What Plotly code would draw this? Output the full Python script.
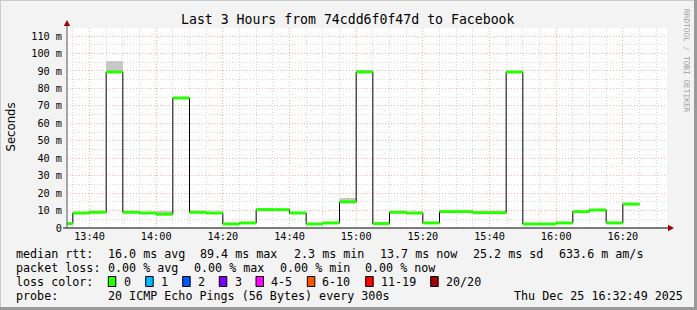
import plotly.graph_objects as go
import pandas as pd

# ---------------- data ----------------
seg_start = pd.date_range("2025-12-25 13:30", periods=35, freq="5min")
median_ms = [2.5, 8.6, 9.0, 89.4, 9.0, 8.6, 7.9, 74.5, 9.0, 8.6,
             2.3, 2.9, 10.5, 10.5, 8.6, 2.3, 2.9, 15.0, 89.4, 2.5,
             9.0, 8.6, 2.9, 9.4, 9.4, 8.8, 8.8, 89.4, 2.3, 2.3,
             2.9, 9.4, 10.3, 2.9, 13.7]
smoke_hi_ms = [2.5, 8.6, 9.0, 95.5, 9.0, 8.6, 10.0, 74.5, 9.0, 8.6,
               2.3, 2.9, 11.2, 10.5, 8.6, 2.3, 2.9, 17.2, 90.6, 2.5,
               9.0, 8.6, 2.9, 9.4, 9.4, 8.8, 8.8, 89.4, 2.3, 2.3,
               2.9, 9.4, 10.3, 2.9, 13.7]
y_tick_vals = [0, 10, 20, 30, 40, 50, 60, 70, 80, 90, 100, 110]
y_tick_text = ["0", "10 m", "20 m", "30 m", "40 m", "50 m", "60 m", "70 m",
               "80 m", "90 m", "100 m", "110 m"]
title_text = "Last 3 Hours from 74cdd6f0f47d to Facebook"
stats_row1 = ["median rtt:", "16.0 ms avg", "89.4 ms max", "2.3 ms min",
              "13.7 ms now", "25.2 ms sd", "633.6 m am/s"]
stats_row2 = ["packet loss:", "0.00 % avg", "0.00 % max", "0.00 % min", "0.00 % now"]
loss_title = "loss color:"
loss_labels = ["0", "1", "2", "3", "4-5", "6-10", "11-19", "20/20"]
loss_colors = ["#26ff00", "#00b8ff", "#0059ff", "#7e00ff", "#ff00ff",
               "#ff5500", "#ff0000", "#a10000"]
probe_row = ["probe:", "20 ICMP Echo Pings (56 Bytes) every 300s"]
stamp_text = "Thu Dec 25 16:32:49 2025"
watermark = "RRDTOOL / TOBI OETIKER"

# ---------------- geometry helpers ----------------
W, H = 697, 310
L, R, T, B = 67, 30, 28, 82
PW, PH = W - L - R, H - T - B
def ax(px):
    return (px - L) / PW
def ay(py):
    return (H - B - py) / PH

MONO = "DejaVu Sans Mono"
step = pd.Timedelta(minutes=5)

fig = go.Figure()

# smoke (spread of pings)
fig.add_trace(go.Bar(
    x=seg_start, y=[h - m for h, m in zip(smoke_hi_ms, median_ms)], base=median_ms,
    width=300000, offset=0, marker=dict(color="#c8c8c8", line=dict(width=0)),
    hoverinfo="skip", showlegend=False))

# black step line
step_x = list(seg_start) + [seg_start[-1] + step]
step_y = list(median_ms) + [median_ms[-1]]
fig.add_trace(go.Scatter(x=step_x, y=step_y, mode="lines", line_shape="hv",
                         line=dict(color="#000000", width=1), showlegend=False,
                         hoverinfo="skip"))

# green median segments
gx, gy = [], []
for t, m in zip(seg_start, median_ms):
    gx += [t, t + step, None]
    gy += [m, m, None]
fig.add_trace(go.Scatter(x=gx, y=gy, mode="lines",
                         line=dict(color=loss_colors[0], width=3),
                         showlegend=False, hoverinfo="skip"))

major_grid = "#f4b4b4"
minor_grid = "#d8d8d8"
dash = "1px,2px"
fig.update_layout(
    width=W, height=H,
    margin=dict(l=L, r=R, t=T, b=B, autoexpand=False),
    paper_bgcolor="#f3f3f3", plot_bgcolor="#ffffff",
    bargap=0, showlegend=False,
    xaxis=dict(type="date",
               range=["2025-12-25 13:33:15", "2025-12-25 16:33:15"],
               tickmode="linear", tick0="2025-12-25 13:40", dtick=1200000,
               tickformat="%H:%M", ticks="", showline=False, zeroline=False,
               showgrid=True, gridcolor=major_grid, griddash=dash, gridwidth=1,
               minor=dict(tick0="2025-12-25 13:35", dtick=300000, showgrid=True,
                          gridcolor=minor_grid, griddash=dash, gridwidth=1),
               tickfont=dict(family=MONO, size=10.2, color="#000000"),
               ticklabelstandoff=1),
    yaxis=dict(range=[0, 114.6], tickmode="array", tickvals=y_tick_vals,
               ticktext=y_tick_text, ticks="", showline=False, zeroline=False,
               showgrid=True, gridcolor=major_grid, griddash=dash, gridwidth=1,
               minor=dict(tick0=0, dtick=5, showgrid=True, gridcolor=minor_grid,
                          griddash=dash, gridwidth=1),
               tickfont=dict(family=MONO, size=10.2, color="#000000"),
               ticklabelstandoff=4),
)

shapes = []
# frame shading
shapes.append(dict(type="line", xref="paper", yref="paper", x0=ax(0), x1=ax(W), y0=ay(0.5), y1=ay(0.5),
                   line=dict(color="#cbcbcb", width=1)))
shapes.append(dict(type="line", xref="paper", yref="paper", x0=ax(0.5), x1=ax(0.5), y0=ay(0), y1=ay(H),
                   line=dict(color="#cbcbcb", width=1)))
shapes.append(dict(type="line", xref="paper", yref="paper", x0=ax(0), x1=ax(W), y0=ay(H - 1.5), y1=ay(H - 1.5),
                   line=dict(color="#999999", width=3)))
shapes.append(dict(type="line", xref="paper", yref="paper", x0=ax(W - 1.5), x1=ax(W - 1.5), y0=ay(0), y1=ay(H),
                   line=dict(color="#999999", width=3)))
# axes
shapes.append(dict(type="line", xref="paper", yref="paper", x0=ax(63), x1=ax(670), y0=0, y1=0,
                   line=dict(color="#000000", width=1)))
shapes.append(dict(type="line", xref="paper", yref="paper", x0=0, x1=0, y0=0, y1=ay(24),
                   line=dict(color="#555555", width=1)))
# arrows
shapes.append(dict(type="path", xref="paper", yref="paper",
                   path=f"M {ax(668)} {ay(224.8)} L {ax(674)} {ay(228)} L {ax(668)} {ay(231.2)} Z",
                   fillcolor="#a10000", line=dict(width=0)))
shapes.append(dict(type="path", xref="paper", yref="paper",
                   path=f"M {ax(63.8)} {ay(26)} L {ax(67)} {ay(20)} L {ax(70.2)} {ay(26)} Z",
                   fillcolor="#a10000", line=dict(width=0)))

ann = []
def txt(s, px, py, size=11.7, xanchor="left", color="#000000", family=MONO, angle=0):
    ann.append(dict(text=s, x=ax(px), y=ay(py), xref="paper", yref="paper",
                    xanchor=xanchor, yanchor="middle", showarrow=False, borderpad=0,
                    textangle=angle, font=dict(family=family, size=size, color=color)))

txt(title_text, 348, 19, size=13.2, xanchor="center")
txt("Seconds", 10.5, 127, size=11.7, xanchor="center", family="DejaVu Sans", angle=-90)
txt(watermark, 687, 61, size=7.8, xanchor="center", color="#a0a0a0", angle=90)

row1_x = [16, 107.3, 200, 293.3, 379.3, 472.7, 558.3]
for s, px in zip(stats_row1, row1_x):
    txt(s, px - 0.6, 254)
row2_x = [16, 107.3, 193.3, 279.3, 365]
for s, px in zip(stats_row2, row2_x):
    txt(s, px - 0.6, 268.3)
txt(loss_title, 16 - 0.6, 281.7)
box_x = [108.3, 145.7, 182.7, 219.3, 256, 307.3, 365.7, 430.7]
lab_x = [123.3, 160.7, 197.3, 234.3, 270.7, 322, 380.7, 445.7]
for lab, col, bx, lx in zip(loss_labels, loss_colors, box_x, lab_x):
    shapes.append(dict(type="rect", xref="paper", yref="paper",
                       x0=ax(bx), x1=ax(bx + 7.5), y0=ay(286.5), y1=ay(276.5),
                       fillcolor=col, line=dict(color="#000000", width=1)))
    txt(lab, lx - 0.6, 281.7)
probe_x = [16, 107.3]
for s, px in zip(probe_row, probe_x):
    txt(s, px - 0.6, 296.3)
txt(stamp_text, 514 - 0.6, 296.3)

fig.update_layout(shapes=shapes, annotations=ann)
fig.write_html("out.html", config={"displayModeBar": False})
